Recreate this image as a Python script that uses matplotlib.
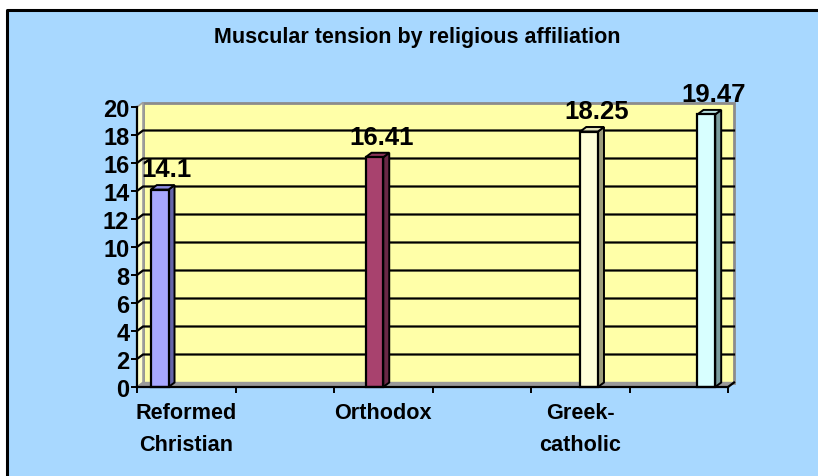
import numpy as np
import matplotlib.pyplot as plt
from matplotlib.patches import Polygon, Rectangle
from matplotlib.lines import Line2D

plt.rcParams['font.family'] = ['Liberation Sans', 'DejaVu Sans']

# data
title = 'Muscular tension by religious affiliation'
values = [14.1, 16.41, 18.25, 19.47]
value_labels = ['14.1', '16.41', '18.25', '19.47']
bar_pos = [0.23, 2.41, 4.59, 5.78]
cat_labels = ['Reformed\nChristian', 'Orthodox', 'Greek-\ncatholic']
cat_pos = [0.5, 2.5, 4.5]
front_colors = ['#A8A8FF', '#A8426E', '#FFFFD8', '#D8FFFF']
side_colors = ['#6464A8', '#6A2846', '#9C9C7A', '#7C9E9E']
top_colors = ['#8C8CE0', '#8A3458', '#E0E0B8', '#B8E0E0']

W, H = 818, 477
fig = plt.figure(figsize=(W / 100, H / 100), dpi=100)
fig.patch.set_facecolor('#A8D8FF')
fig.patch.set_edgecolor('#A8D8FF')

# white margin on top/left, black border of the chart area
fig.patches.append(Rectangle((0, (H - 11) / H), 1, 11 / H, transform=fig.transFigure,
                             facecolor='white', edgecolor='none', lw=0, zorder=-5))
fig.patches.append(Rectangle((0, 0), 7 / W, 1, transform=fig.transFigure,
                             facecolor='white', edgecolor='none', lw=0, zorder=-5))
fig.lines.append(Line2D([7 / W, 7 / W, 1.01], [-0.01, (H - 11) / H, (H - 11) / H],
                        transform=fig.transFigure, color='black', lw=2.2, zorder=-4))

ax = fig.add_axes([137 / W, 89 / H, 591 / W, 280 / H])
ax.set_zorder(2)
ax.set_xlim(0, 6)
ax.set_ylim(0, 20)
ax.patch.set_visible(False)

dx = 6 / 98.5
dy = 4.5 / 14
bw = 0.18

# walls and floor
ax.add_patch(Polygon([(dx, dy), (6 + dx, dy), (6 + dx, 20 + dy), (dx, 20 + dy)],
                     closed=True, facecolor='#FFFFA8', edgecolor='#8C8C8C', lw=2,
                     clip_on=False, zorder=1))
ax.add_patch(Polygon([(0, 0), (dx, dy), (dx, 20 + dy), (0, 20)], closed=True,
                     facecolor='#FFFFCC', edgecolor='#A0A0A0', lw=1.2,
                     clip_on=False, zorder=1))
ax.add_patch(Polygon([(0, 0), (6, 0), (6 + dx, dy), (dx, dy)], closed=True,
                     facecolor='#9A9A9A', edgecolor='#9A9A9A', lw=1,
                     clip_on=False, zorder=1))

for g in range(2, 20, 2):
    ax.plot([0, dx, 6 + dx], [g, g + dy, g + dy], color='black', lw=1.6,
            clip_on=False, zorder=2)
ax.plot([6, 6 + dx], [0, dy], color='black', lw=1.6, clip_on=False, zorder=2)

# 3d-looking bars
for x, v, fc, sc, tc, lab in zip(bar_pos, values, front_colors, side_colors,
                                 top_colors, value_labels):
    x0, x1 = x - bw / 2, x + bw / 2
    ax.add_patch(Polygon([(x1, 0), (x1 + dx, dy), (x1 + dx, v + dy), (x1, v)],
                         closed=True, facecolor=sc, edgecolor='black', lw=1.4,
                         clip_on=False, zorder=3))
    ax.add_patch(Polygon([(x0, v), (x0 + dx, v + dy), (x1 + dx, v + dy), (x1, v)],
                         closed=True, facecolor=tc, edgecolor='black', lw=1.4,
                         clip_on=False, zorder=3))
    ax.add_patch(Rectangle((x0, 0), bw, v, facecolor=fc, edgecolor='black',
                           lw=1.6, clip_on=False, zorder=4))
    ax.annotate(lab, (x + dx / 2, v + dy), xytext=(3, 3), textcoords='offset points',
                ha='center', va='bottom', fontsize=18.5, fontweight='bold',
                annotation_clip=False, zorder=5)

# axes
for s in ['top', 'right']:
    ax.spines[s].set_visible(False)
for s in ['left', 'bottom']:
    ax.spines[s].set_linewidth(1.6)
    ax.spines[s].set_zorder(6)
ax.set_yticks(np.arange(0, 21, 2))
ax.set_yticklabels([str(t) for t in range(0, 21, 2)], fontsize=17, fontweight='bold')
ax.tick_params(axis='y', direction='out', length=4.5, width=1.4, pad=1)
ax.set_xticks(range(0, 7))
ax.set_xticklabels([])
ax.tick_params(axis='x', direction='out', length=4, width=1.4)
ax.set_xticks(cat_pos, minor=True)
ax.set_xticklabels(cat_labels, minor=True, fontsize=15.6, fontweight='bold',
                   linespacing=1.7)
ax.tick_params(axis='x', which='minor', length=0, pad=11)

fig.text(417 / W, 1 - 38 / H, title, ha='center', va='center', fontsize=15.5,
         fontweight='bold')

fig.savefig('out.png', dpi=100, facecolor=fig.get_facecolor())
